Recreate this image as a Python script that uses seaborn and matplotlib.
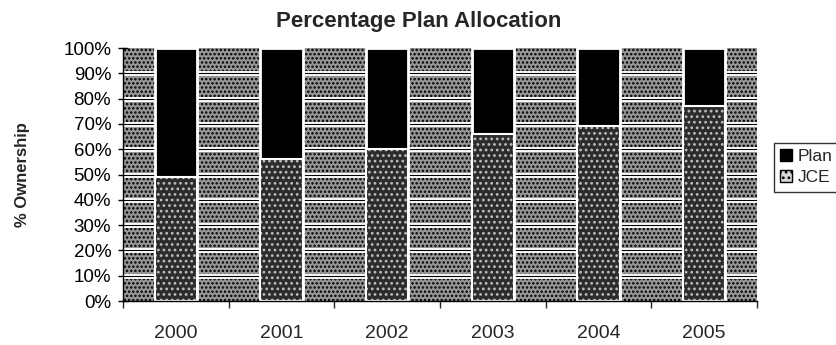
import numpy as np
import pandas as pd
import matplotlib
matplotlib.use("Agg")
import matplotlib.pyplot as plt
from matplotlib.patches import Rectangle, Patch
import seaborn as sns

# Ownership split per year (percent of total)
years = ["2000", "2001", "2002", "2003", "2004", "2005"]
plan_pct = [51, 44, 40, 34, 31, 23]
jce_pct = [49, 56, 60, 66, 69, 77]
y_ticks = [0, 10, 20, 30, 40, 50, 60, 70, 80, 90, 100]

df = pd.DataFrame({"Year": years, "Plan": plan_pct, "JCE": jce_pct})
df["Total"] = df["Plan"] + df["JCE"]

sns.set_style("white")
plt.rcParams["font.family"] = ["Liberation Sans", "DejaVu Sans"]
plt.rcParams["hatch.linewidth"] = 1.2

fig = plt.figure(figsize=(8.37, 3.45), dpi=100)
ax = fig.add_axes([0.147, 0.1275, 0.7574, 0.7333])

# speckled plot-area fill
bg = Rectangle((0, 0), 1, 1, transform=ax.transAxes, facecolor="#989898",
               edgecolor="black", hatch="....", lw=0, zorder=0)
ax.add_patch(bg)

# gridlines: black rule framed in white
for v in y_ticks[1:-1]:
    ax.axhline(v, color="white", lw=3.5, zorder=1)
    ax.axhline(v, color="black", lw=0.8, zorder=1.2)

# stacked columns: full stack in black (Plan on top), JCE drawn over the base
sns.barplot(data=df, x="Year", y="Total", color="black", width=0.4, ax=ax,
            saturation=1, errorbar=None, edgecolor="white", linewidth=2, zorder=2)
sns.barplot(data=df, x="Year", y="JCE", color="#2c2c2c", width=0.4, ax=ax,
            saturation=1, errorbar=None, edgecolor="#bdbdbd", linewidth=0,
            hatch="...", zorder=3)
sns.barplot(data=df, x="Year", y="JCE", width=0.4, ax=ax, errorbar=None,
            fill=False, edgecolor="white", linewidth=1.5, zorder=4)

ax.set_xlim(-0.5, len(years) - 0.5)
ax.set_ylim(0, 100)
ax.set_yticks(y_ticks)
ax.set_yticklabels([f"{v}%" for v in y_ticks])
ax.set_xticks(np.arange(len(years) + 1) - 0.5, minor=True)
ax.set_xlabel("")
ax.set_ylabel("")

ax.tick_params(axis="y", direction="inout", length=7, width=1, pad=5,
               labelsize=13.5, left=True, colors="black")
ax.tick_params(axis="x", which="major", length=0, pad=17, labelsize=14)
ax.tick_params(axis="x", which="minor", direction="out", length=5, width=1,
               bottom=True)

for s in ["top", "right"]:
    ax.spines[s].set_visible(False)
for s in ["left", "bottom"]:
    ax.spines[s].set_color("black")
    ax.spines[s].set_linewidth(1)
    ax.spines[s].set_zorder(5)

fig.text(23 / 837, 1 - 175 / 345, "% Ownership", rotation=90, ha="center",
         va="center", fontsize=12, fontweight="bold")
fig.suptitle("Percentage Plan Allocation", x=0.5, y=1 - 22 / 345, va="center",
             fontsize=16, fontweight="bold")

handles = [
    Patch(facecolor="black", edgecolor="black", label="Plan"),
    Patch(facecolor="#d8d8d8", edgecolor="black", hatch="...", label="JCE"),
]
leg = fig.legend(handles=handles, loc="upper left",
                 bbox_to_anchor=(774 / 837, 1 - 143 / 345), frameon=True,
                 fancybox=False, fontsize=12.5, handlelength=0.7,
                 handleheight=0.7, handletextpad=0.3, borderpad=0.35,
                 labelspacing=0.35, borderaxespad=0)
leg.get_frame().set_edgecolor("black")
leg.get_frame().set_linewidth(1)

fig.savefig("out.png", dpi=100)
